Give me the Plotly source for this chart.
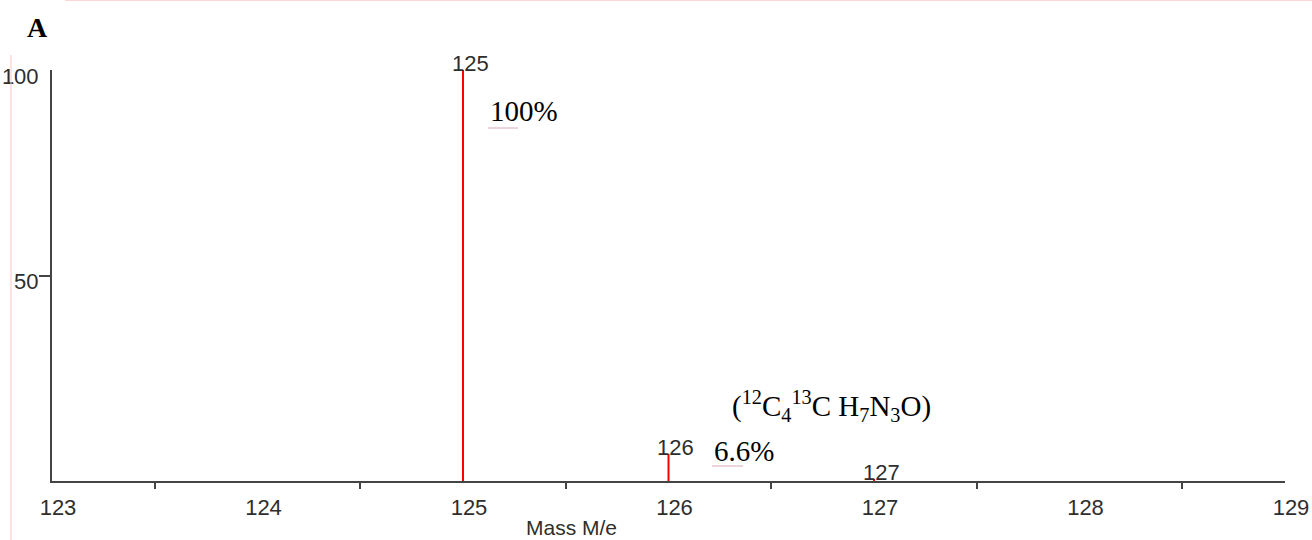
import plotly.graph_objects as go

# ---- data ----
masses = [125, 126, 127]
intensities = [100, 6.6, 0.5]
x_tick_vals = [123, 124, 125, 126, 127, 128, 129]
x_minor_vals = [123.5, 124.5, 125.5, 126.5, 127.5, 128.5]
y_tick_vals = [50, 100]
panel_label = "A"
x_title = "Mass M/e"
pct_labels = ["100%", "6.6%"]
formula = "(<sup>12</sup>C<sub>4</sub><sup>13</sup>C H<sub>7</sub>N<sub>3</sub>O)"

# ---- geometry (pixels) ----
W_FIG, H_FIG = 1312, 540
L, R, T, B = 52, 27, 70, 59
PW = W_FIG - L - R
PH = H_FIG - T - B


def px(xp):
    return (xp - L) / PW


def py(yp):
    return (H_FIG - B - yp) / PH


SANS = "Liberation Sans, Arial, sans-serif"
SERIF = "Liberation Serif, Times New Roman, serif"
TXT = "#2e2e2e"

xs, ys = [], []
for m, v in zip(masses, intensities):
    xs += [m, m, None]
    ys += [0, v, None]

fig = go.Figure()
fig.add_trace(go.Scatter(x=xs, y=ys, mode="lines",
                         line=dict(color="#ff0000", width=2),
                         hoverinfo="skip", showlegend=False))

annotations = []
for m, v in zip(masses, intensities):
    annotations.append(dict(x=m, y=v, xref="x", yref="y", text=str(m),
                            showarrow=False, xanchor="center", yanchor="bottom",
                            xshift=7, yshift=-8,
                            font=dict(family=SANS, size=22, color=TXT)))

annotations += [
    dict(x=px(37), y=py(28), xref="paper", yref="paper", text="<b>%s</b>" % panel_label,
         showarrow=False, xanchor="center", yanchor="middle",
         font=dict(family=SERIF, size=28, color="#000")),
    dict(x=px(524), y=py(111), xref="paper", yref="paper", text=pct_labels[0],
         showarrow=False, xanchor="center", yanchor="middle",
         font=dict(family=SERIF, size=29, color="#000")),
    dict(x=px(744), y=py(451), xref="paper", yref="paper", text=pct_labels[1],
         showarrow=False, xanchor="center", yanchor="middle",
         font=dict(family=SERIF, size=29, color="#000")),
    dict(x=px(831), y=py(406), xref="paper", yref="paper", text=formula,
         showarrow=False, xanchor="center", yanchor="middle",
         font=dict(family=SERIF, size=29, color="#000")),
    dict(x=px(571), y=py(527), xref="paper", yref="paper", text=x_title,
         showarrow=False, xanchor="center", yanchor="middle",
         font=dict(family=SANS, size=21, color=TXT)),
]

shapes = [
    # faint page-edge lines from the source screenshot
    dict(type="line", xref="paper", yref="paper", x0=px(65), x1=px(1312), y0=py(0.5), y1=py(0.5),
         line=dict(color="#ffd6d6", width=1)),
    dict(type="line", xref="paper", yref="paper", x0=px(11), x1=px(11), y0=py(55), y1=py(540),
         line=dict(color="#ffc4c4", width=1)),
    # spell-check squiggles
    dict(type="line", xref="paper", yref="paper", x0=px(488), x1=px(518), y0=py(128), y1=py(128),
         line=dict(color="#d9a9b8", width=1)),
    dict(type="line", xref="paper", yref="paper", x0=px(712), x1=px(743), y0=py(466), y1=py(466),
         line=dict(color="#d9a9b8", width=1)),
]

fig.update_layout(
    width=W_FIG, height=H_FIG,
    margin=dict(l=L, r=R, t=T, b=B, pad=0, autoexpand=False),
    paper_bgcolor="white", plot_bgcolor="white",
    annotations=annotations, shapes=shapes,
    showlegend=False,
)
fig.update_xaxes(range=[123, 129], tickvals=x_tick_vals, ticktext=[str(v) for v in x_tick_vals],
                 ticks="outside", ticklen=0, showgrid=False, zeroline=False,
                 showline=True, linecolor="#444", linewidth=2, automargin=False,
                 ticklabelshift=6, ticklabelstandoff=6,
                 tickfont=dict(family=SANS, size=22, color=TXT),
                 minor=dict(tickvals=x_minor_vals, ticks="outside", ticklen=6,
                            tickcolor="#444", tickwidth=2, showgrid=False))
fig.update_yaxes(range=[0, 100], tickvals=y_tick_vals, ticktext=[str(v) for v in y_tick_vals],
                 ticks="outside", ticklen=0, showgrid=False, zeroline=False,
                 showline=True, linecolor="#444", linewidth=2, automargin=False,
                 ticklabelshift=6, ticklabelstandoff=7,
                 tickfont=dict(family=SANS, size=22, color=TXT),
                 minor=dict(tickvals=[50], ticks="outside", ticklen=11,
                            tickcolor="#444", tickwidth=1.5, showgrid=False))

fig.write_html("out.html")
